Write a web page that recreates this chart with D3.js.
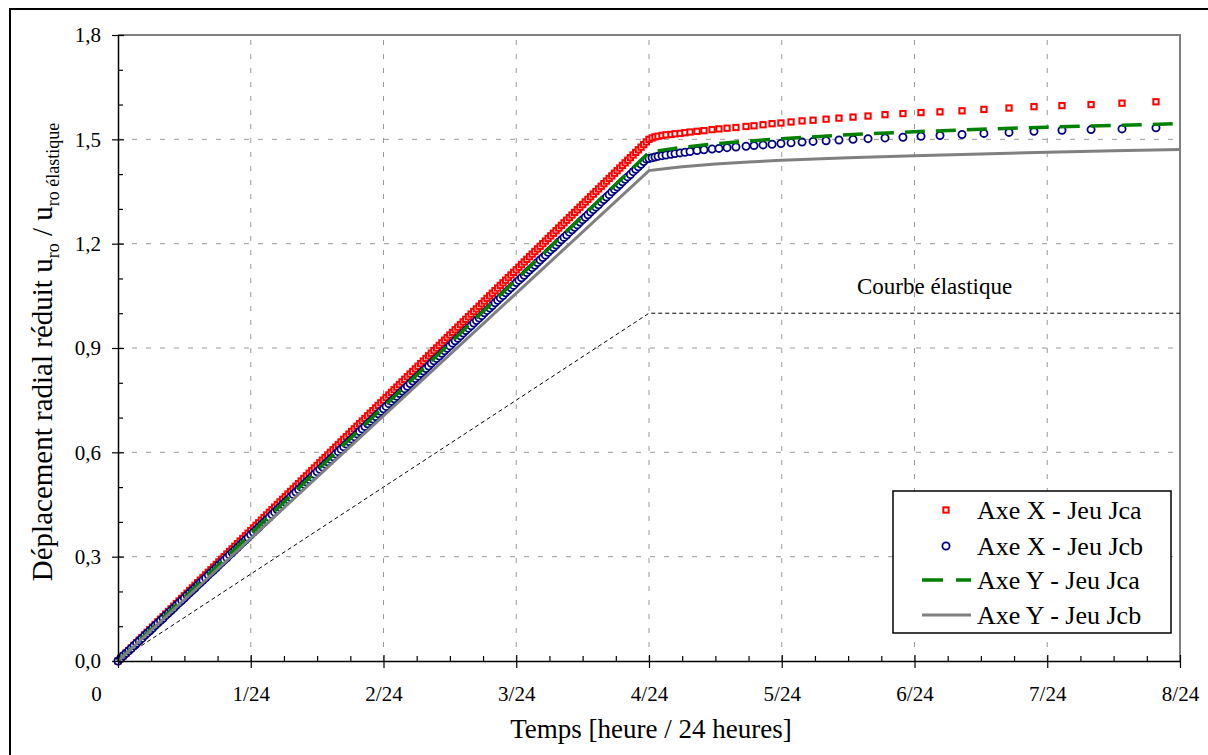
<!DOCTYPE html>
<html><head><meta charset="utf-8">
<script src="https://cdn.jsdelivr.net/npm/d3@7"></script>
<style>
body{margin:0;background:#fff}
svg{display:block}
text{font-family:"Liberation Serif","Times New Roman",serif;fill:#000}
</style>
</head><body><svg id="c" width="1208" height="755"></svg>
<script>
// ---------- data (time in hours, value = u_ro / u_ro elastique) ----------
const xTicks = [0,1,2,3,4,5,6,7,8];
const xTickLabels = ["0","1/24","2/24","3/24","4/24","5/24","6/24","7/24","8/24"];
const yTicks = [0,0.3,0.6,0.9,1.2,1.5,1.8];
const yTickLabels = ["0,0","0,3","0,6","0,9","1,2","1,5","1,8"];

const rampTime = [0,0.02,0.04,0.06,0.08,0.1,0.12,0.14,0.16,0.18,0.2,0.22,0.24,0.26,0.28,0.3,0.32,0.34,0.36,0.38,0.4,0.42,0.44,0.46,0.48,0.5,0.52,0.54,0.56,0.58,0.6,0.62,0.64,0.66,0.68,0.7,0.72,0.74,0.76,0.78,0.8,0.82,0.84,0.86,0.88,0.9,0.92,0.94,0.96,0.98,
1,1.02,1.04,1.06,1.08,1.1,1.12,1.14,1.16,1.18,1.2,1.22,1.24,1.26,1.28,1.3,1.32,1.34,1.36,1.38,1.4,1.42,1.44,1.46,1.48,1.5,1.52,1.54,1.56,1.58,1.6,1.62,1.64,1.66,1.68,1.7,1.72,1.74,1.76,1.78,1.8,1.82,1.84,1.86,1.88,1.9,1.92,1.94,1.96,1.98,
2,2.02,2.04,2.06,2.08,2.1,2.12,2.14,2.16,2.18,2.2,2.22,2.24,2.26,2.28,2.3,2.32,2.34,2.36,2.38,2.4,2.42,2.44,2.46,2.48,2.5,2.52,2.54,2.56,2.58,2.6,2.62,2.64,2.66,2.68,2.7,2.72,2.74,2.76,2.78,2.8,2.82,2.84,2.86,2.88,2.9,2.92,2.94,2.96,2.98,
3,3.02,3.04,3.06,3.08,3.1,3.12,3.14,3.16,3.18,3.2,3.22,3.24,3.26,3.28,3.3,3.32,3.34,3.36,3.38,3.4,3.42,3.44,3.46,3.48,3.5,3.52,3.54,3.56,3.58,3.6,3.62,3.64,3.66,3.68,3.7,3.72,3.74,3.76,3.78,3.8,3.82,3.84,3.86,3.88,3.9,3.92,3.94,3.96,3.98];

const xJcaRamp = [0,0.0075,0.015,0.0225,0.03,0.0375,0.045,0.0525,0.06,0.0675,0.075,0.0825,0.09,0.0975,0.105,0.1125,0.12,0.1275,0.135,0.1425,0.15,0.1575,0.165,0.1725,0.18,0.1875,0.195,0.2025,0.21,0.2175,0.225,0.2325,0.24,0.2475,0.255,0.2625,0.27,0.2775,0.285,0.2925,0.3,0.3075,0.315,0.3225,0.33,0.3375,0.345,0.3525,0.36,0.3675,
0.375,0.3825,0.39,0.3975,0.405,0.4125,0.42,0.4275,0.435,0.4425,0.45,0.4575,0.465,0.4725,0.48,0.4875,0.495,0.5025,0.51,0.5175,0.525,0.5325,0.54,0.5475,0.555,0.5625,0.57,0.5775,0.585,0.5925,0.6,0.6075,0.615,0.6225,0.63,0.6375,0.645,0.6525,0.66,0.6675,0.675,0.6825,0.69,0.6975,0.705,0.7125,0.72,0.7275,0.735,0.7425,
0.75,0.7575,0.765,0.7725,0.78,0.7875,0.795,0.8025,0.81,0.8175,0.825,0.8325,0.84,0.8475,0.855,0.8625,0.87,0.8775,0.885,0.8925,0.9,0.9075,0.915,0.9225,0.93,0.9375,0.945,0.9525,0.96,0.9675,0.975,0.9825,0.99,0.9975,1.005,1.0125,1.02,1.0275,1.035,1.0425,1.05,1.0575,1.065,1.0725,1.08,1.0875,1.095,1.1025,1.11,1.1175,
1.125,1.1325,1.14,1.1475,1.155,1.1625,1.17,1.1775,1.185,1.1925,1.2,1.2075,1.215,1.2225,1.23,1.2375,1.245,1.2525,1.26,1.2675,1.275,1.2825,1.29,1.2975,1.305,1.3125,1.32,1.3275,1.335,1.3425,1.35,1.3575,1.365,1.3725,1.38,1.3875,1.395,1.4025,1.41,1.4175,1.425,1.4325,1.44,1.4475,1.455,1.4625,1.47,1.4775,1.485,1.4925];

const xJcbRamp = [0,0.007,0.015,0.022,0.029,0.036,0.044,0.051,0.058,0.065,0.073,0.080,0.087,0.094,0.102,0.109,0.116,0.123,0.131,0.138,0.145,0.152,0.160,0.167,0.174,0.181,0.189,0.196,0.203,0.210,0.218,0.225,0.232,0.239,0.247,0.254,0.261,0.268,0.276,0.283,0.290,0.297,0.305,0.312,0.319,0.326,0.334,0.341,0.348,0.355,
0.363,0.370,0.377,0.384,0.392,0.399,0.406,0.413,0.421,0.428,0.435,0.442,0.450,0.457,0.464,0.471,0.479,0.486,0.493,0.500,0.508,0.515,0.522,0.529,0.537,0.544,0.551,0.558,0.566,0.573,0.580,0.587,0.595,0.602,0.609,0.616,0.624,0.631,0.638,0.645,0.653,0.660,0.667,0.674,0.682,0.689,0.696,0.703,0.711,0.718,
0.725,0.732,0.740,0.747,0.754,0.761,0.769,0.776,0.783,0.790,0.798,0.805,0.812,0.819,0.827,0.834,0.841,0.848,0.856,0.863,0.870,0.877,0.885,0.892,0.899,0.906,0.914,0.921,0.928,0.935,0.943,0.950,0.957,0.964,0.972,0.979,0.986,0.993,1.001,1.008,1.015,1.022,1.030,1.037,1.044,1.051,1.059,1.066,1.073,1.080,
1.088,1.095,1.102,1.109,1.117,1.124,1.131,1.138,1.146,1.153,1.160,1.167,1.175,1.182,1.189,1.196,1.204,1.211,1.218,1.225,1.233,1.240,1.247,1.254,1.262,1.269,1.276,1.283,1.291,1.298,1.305,1.312,1.320,1.327,1.334,1.341,1.349,1.356,1.363,1.370,1.378,1.385,1.392,1.399,1.407,1.414,1.421,1.428,1.436,1.443];

const postTime = [4.000,4.023,4.045,4.068,4.098,4.128,4.166,4.196,4.234,4.271,4.309,4.362,4.414,4.475,4.527,4.588,4.655,4.731,4.791,4.859,4.927,4.994,5.070,5.153,5.236,5.334,5.431,5.537,5.650,5.778,5.913,6.049,6.192,6.358,6.523,6.712,6.900,7.111,7.330,7.563,7.819];
const xJcaPost = [1.500,1.504,1.507,1.509,1.511,1.513,1.514,1.516,1.517,1.519,1.521,1.523,1.525,1.528,1.530,1.532,1.534,1.537,1.539,1.542,1.545,1.547,1.550,1.553,1.555,1.558,1.561,1.564,1.567,1.571,1.574,1.577,1.579,1.582,1.586,1.590,1.594,1.597,1.600,1.604,1.608];
const xJcbPost = [1.445,1.447,1.449,1.451,1.453,1.455,1.457,1.459,1.461,1.463,1.465,1.468,1.470,1.472,1.474,1.476,1.478,1.480,1.482,1.484,1.486,1.488,1.490,1.492,1.494,1.496,1.498,1.500,1.502,1.504,1.506,1.509,1.511,1.514,1.517,1.520,1.523,1.526,1.528,1.530,1.533];

const lineTime = [0,4,4.1,4.25,4.5,4.75,5,5.5,6,6.5,7,7.5,8];
const yJcaValues = [0,1.462,1.469,1.477,1.487,1.495,1.502,1.513,1.522,1.529,1.535,1.540,1.545];
const yJcbValues = [0,1.410,1.415,1.421,1.429,1.435,1.440,1.447,1.453,1.458,1.463,1.467,1.471];

const elasticTime = [0,4,8];
const elasticValues = [0,1,1];

const legendLabels = ["Axe X - Jeu Jca","Axe X - Jeu Jcb","Axe Y - Jeu Jca","Axe Y - Jeu Jcb"];

// ---------- drawing ----------
const svg = d3.select("#c");
const x = d3.scaleLinear().domain([0,8]).range([118,1180]);
const y = d3.scaleLinear().domain([0,1.8]).range([661,35]);
const FONT = '"Liberation Serif","Times New Roman",serif';

// outer frame
svg.append("rect").attr("x",10).attr("y",9).attr("width",1500).attr("height",1000)
  .attr("fill","none").attr("stroke","#000").attr("stroke-width",2);

// grid
const grid = svg.append("g");
grid.selectAll("line.h").data(yTicks.slice(1,-1)).join("line").attr("class","h")
  .attr("x1",x(0)).attr("x2",x(8)).attr("y1",d=>y(d)).attr("y2",d=>y(d));
grid.selectAll("line.v").data(xTicks.slice(1,-1)).join("line").attr("class","v")
  .attr("y1",y(0)).attr("y2",y(1.8)).attr("x1",d=>x(d)).attr("x2",d=>x(d));
grid.selectAll("line").attr("stroke","#9a9a9a").attr("stroke-width",1).attr("stroke-dasharray","5,9");

// plot frame top/right (grey)
svg.append("path").attr("d",`M${x(0)},${y(1.8)}H${x(8)}V${y(0)}`)
  .attr("fill","none").attr("stroke","#808080").attr("stroke-width",2);

// elastic curve
const line = d3.line().x(d=>x(d.t)).y(d=>y(d.v));
const elastic = elasticTime.map((t,i)=>({t,v:elasticValues[i]}));
svg.append("path").datum(elastic).attr("d",line).attr("fill","none")
  .attr("stroke","#000").attr("stroke-width",1).attr("stroke-dasharray","4,3");
svg.append("text").attr("x",857).attr("y",294).style("font-size","23px").text("Courbe élastique");

// series data
const redData = rampTime.concat(postTime).map((t,i)=>({t,v:xJcaRamp.concat(xJcaPost)[i]}));
const blueData = rampTime.concat(postTime).map((t,i)=>({t,v:xJcbRamp.concat(xJcbPost)[i]}));
const greenData = lineTime.map((t,i)=>({t,v:yJcaValues[i]}));
const grayData = lineTime.map((t,i)=>({t,v:yJcbValues[i]}));

const SQ = 5.3, SQW = 2, CR = 3.6, CW = 1.8;
const plot = svg.append("g");
plot.selectAll("rect.sq").data(redData).join("rect").attr("class","sq")
  .attr("x",d=>x(d.t)-SQ/2).attr("y",d=>y(d.v)-SQ/2).attr("width",SQ).attr("height",SQ)
  .attr("fill","#fff").attr("stroke","#ff0000").attr("stroke-width",SQW);
plot.selectAll("circle.ci").data(blueData).join("circle").attr("class","ci")
  .attr("cx",d=>x(d.t)).attr("cy",d=>y(d.v)).attr("r",CR)
  .attr("fill","#fff").attr("stroke","#000080").attr("stroke-width",CW);
plot.append("path").datum(greenData).attr("d",line).attr("fill","none")
  .attr("stroke","#008000").attr("stroke-width",3.5).attr("stroke-dasharray","20,11");
plot.append("path").datum(grayData).attr("d",line).attr("fill","none")
  .attr("stroke","#808080").attr("stroke-width",3);

// axes
function styleAxis(g){
  g.selectAll("path.domain").attr("stroke","#000").attr("stroke-width",1.5);
  g.selectAll(".tick line").attr("stroke","#000").attr("stroke-width",1.2);
  g.selectAll("text").attr("font-family",FONT).attr("font-size",21).attr("fill","#000");
}
const gx = svg.append("g").attr("transform",`translate(0,${y(0)})`)
  .call(d3.axisBottom(x).tickValues(xTicks).tickFormat((d,i)=>xTickLabels[i]).tickSizeInner(7).tickSizeOuter(0).tickPadding(18));
styleAxis(gx);
gx.selectAll(".tick text").filter(d=>d===0).attr("dx",-22);
const gx2 = svg.append("g").attr("transform",`translate(0,${y(0)})`)
  .call(d3.axisTop(x).tickValues(xTicks).tickFormat("").tickSize(6).tickSizeOuter(0));
const gx3 = svg.append("g").attr("transform",`translate(0,${y(0)})`)
  .call(d3.axisTop(x).tickValues(d3.range(0,8.01,0.25).filter(v=>v%1!==0)).tickFormat("").tickSize(5).tickSizeOuter(0));
[gx2,gx3].forEach(g=>{g.select("path.domain").remove();styleAxis(g);});

const gy = svg.append("g").attr("transform",`translate(${x(0)},0)`)
  .call(d3.axisLeft(y).tickValues(yTicks).tickFormat((d,i)=>yTickLabels[i]).tickSizeInner(6).tickSizeOuter(0).tickPadding(11));
styleAxis(gy);
const gy2 = svg.append("g").attr("transform",`translate(${x(0)},0)`)
  .call(d3.axisRight(y).tickValues(yTicks).tickFormat("").tickSize(6).tickSizeOuter(0));
const gy3 = svg.append("g").attr("transform",`translate(${x(0)},0)`)
  .call(d3.axisRight(y).tickValues(d3.range(0,1.81,0.1).filter(v=>Math.abs(v/0.3-Math.round(v/0.3))>1e-6)).tickFormat("").tickSize(5).tickSizeOuter(0));
[gy2,gy3].forEach(g=>{g.select("path.domain").remove();styleAxis(g);});

// axis titles
svg.append("text").attr("x",651).attr("y",738).attr("text-anchor","middle")
  .style("font-size","27px").text("Temps [heure / 24 heures]");
const yt = svg.append("text").attr("transform","translate(52,352) rotate(-90)")
  .attr("text-anchor","middle").style("font-size","29px");
yt.append("tspan").text("Déplacement radial réduit u");
yt.append("tspan").attr("dy",7).style("font-size","18px").text("ro");
yt.append("tspan").attr("dy",-7).text(" / u");
yt.append("tspan").attr("dy",7).style("font-size","18px").text("ro élastique");

// legend
const lg = svg.append("g");
lg.append("rect").attr("x",893).attr("y",491).attr("width",278).attr("height",142)
  .attr("fill","#fff").attr("stroke","#000").attr("stroke-width",1.5);
const rowY = [510,546,580,615];
lg.selectAll("text").data(legendLabels).join("text")
  .attr("x",977).attr("y",(d,i)=>rowY[i]+9).style("font-size","26px").text(d=>d);
lg.append("rect").attr("x",946-SQ/2).attr("y",rowY[0]-SQ/2).attr("width",SQ).attr("height",SQ)
  .attr("fill","#fff").attr("stroke","#ff0000").attr("stroke-width",SQW);
lg.append("circle").attr("cx",946).attr("cy",rowY[1]).attr("r",CR)
  .attr("fill","#fff").attr("stroke","#000080").attr("stroke-width",CW);
lg.append("line").attr("x1",922).attr("x2",971).attr("y1",rowY[2]).attr("y2",rowY[2])
  .attr("stroke","#008000").attr("stroke-width",3.5).attr("stroke-dasharray","21,13");
lg.append("line").attr("x1",922).attr("x2",971).attr("y1",rowY[3]).attr("y2",rowY[3])
  .attr("stroke","#808080").attr("stroke-width",3);
</script>
</body></html>
